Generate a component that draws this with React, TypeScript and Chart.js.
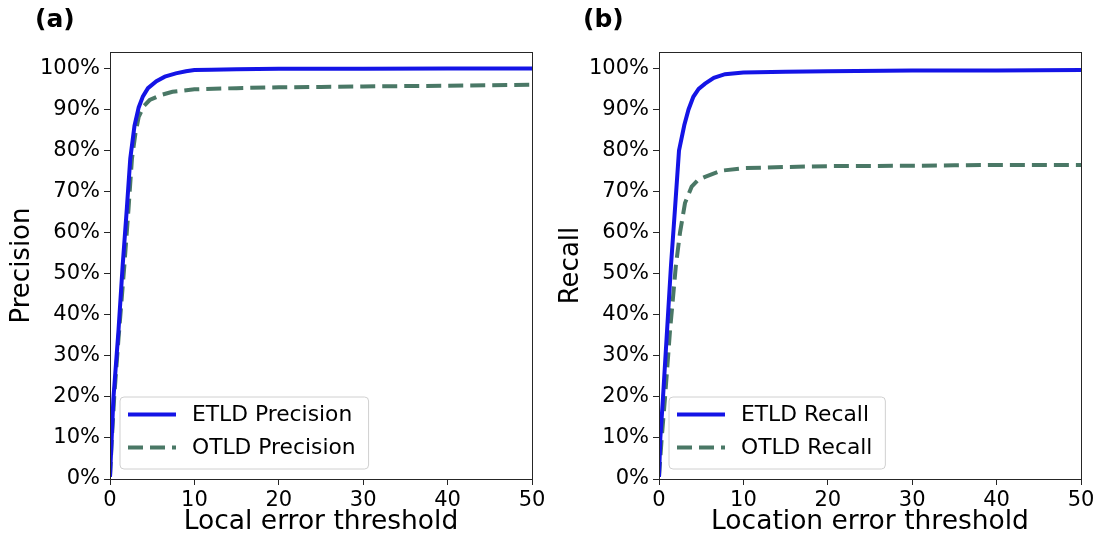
import React, { useEffect, useRef } from 'react';
import { Chart, registerables } from 'chart.js';

Chart.register(...registerables);

// ---------- data ----------
const xTicks = [0, 10, 20, 30, 40, 50];
const yTicks = [0, 10, 20, 30, 40, 50, 60, 70, 80, 90, 100];

const etldPrecisionX = [0, 0.2, 0.4, 1.0, 1.5, 2.0, 2.4, 2.9, 3.4, 3.9, 4.5, 5.5, 6.5, 7.8, 9, 10, 12, 15, 20, 30, 40, 50];
const etldPrecisionY = [0.5, 10, 19.5, 36, 52, 66, 78, 86, 90.5, 93.2, 95.2, 96.9, 98.0, 98.8, 99.3, 99.6, 99.7, 99.8, 99.9, 99.9, 100, 100];

const otldPrecisionX = [0, 0.2, 0.5, 1.0, 1.7, 2.2, 2.6, 3.0, 3.4, 4.0, 4.7, 6.0, 7.4, 10, 15, 20, 25, 30, 35, 40, 45, 50];
const otldPrecisionY = [0.5, 9, 20, 34, 52, 66, 78, 84, 88.2, 90.8, 92.3, 93.5, 94.3, 94.9, 95.2, 95.4, 95.5, 95.6, 95.7, 95.8, 95.9, 96.0];

const etldRecallX = [0, 0.16, 0.47, 0.95, 1.42, 1.9, 2.37, 3.0, 3.5, 4.07, 4.7, 5.46, 6.5, 7.83, 10, 15, 20, 30, 40, 50];
const etldRecallY = [0.5, 10, 19.7, 36, 52, 66, 80, 86.2, 90, 93.1, 95, 96.3, 97.7, 98.6, 99.0, 99.2, 99.3, 99.5, 99.5, 99.6];

const otldRecallX = [0, 0.32, 0.71, 1.3, 2.0, 2.49, 3.08, 3.87, 4.6, 5.46, 7.4, 10, 15, 20, 30, 35, 40, 50];
const otldRecallY = [0.5, 10, 19.7, 36, 52, 60, 67.2, 71.2, 72.8, 73.6, 75.1, 75.7, 76.0, 76.2, 76.3, 76.4, 76.5, 76.5];

const panelTitles = ['(a)', '(b)'];
const xAxisTitles = ['Local error threshold', 'Location error threshold'];
const yAxisTitles = ['Precision', 'Recall'];
const precisionLabels = ['ETLD Precision', 'OTLD Precision'];
const recallLabels = ['ETLD Recall', 'OTLD Recall'];

// ---------- styles ----------
const FONT = '"DejaVu Sans", "Liberation Sans", sans-serif';
const ETLD_COLOR = '#1414e6';
const OTLD_COLOR = '#4a7866';
const AXIS_COLOR = '#262626';

const zip = (xs: number[], ys: number[]) => xs.map((x, i) => ({ x, y: ys[i] }));

const decorPlugin = {
  id: 'decor',
  afterDraw(chart: any, _args: any, opts: any) {
    const { ctx, chartArea: a } = chart;
    ctx.save();
    // frame
    ctx.strokeStyle = AXIS_COLOR;
    ctx.lineWidth = 1;
    ctx.setLineDash([]);
    ctx.strokeRect(Math.round(a.left) + 0.5, Math.round(a.top) + 0.5, Math.round(a.right - a.left), Math.round(a.bottom - a.top));
    // panel title
    ctx.fillStyle = '#000';
    ctx.font = `bold 25px ${FONT}`;
    ctx.textBaseline = 'middle';
    ctx.textAlign = 'left';
    ctx.fillText(opts.panel, opts.panelX, 20);
    // legend
    ctx.font = `21.8px ${FONT}`;
    const ds = chart.data.datasets;
    const tw = Math.max(...ds.map((d: any) => ctx.measureText(d.label).width));
    const bh = 72;
    const bx = a.left + 10;
    const by = a.bottom - 10 - bh;
    const bw = 8 + 48 + 16 + tw + 13;
    const r = 4;
    ctx.beginPath();
    ctx.moveTo(bx + r, by);
    ctx.lineTo(bx + bw - r, by);
    ctx.quadraticCurveTo(bx + bw, by, bx + bw, by + r);
    ctx.lineTo(bx + bw, by + bh - r);
    ctx.quadraticCurveTo(bx + bw, by + bh, bx + bw - r, by + bh);
    ctx.lineTo(bx + r, by + bh);
    ctx.quadraticCurveTo(bx, by + bh, bx, by + bh - r);
    ctx.lineTo(bx, by + r);
    ctx.quadraticCurveTo(bx, by, bx + r, by);
    ctx.closePath();
    ctx.fillStyle = 'rgba(255,255,255,0.8)';
    ctx.fill();
    ctx.strokeStyle = '#d0d0d0';
    ctx.lineWidth = 1;
    ctx.stroke();
    ds.forEach((d: any, i: number) => {
      const y = by + 17.5 + i * 33;
      ctx.strokeStyle = d.borderColor;
      ctx.lineWidth = d.borderWidth;
      ctx.setLineDash(d.borderDash || []);
      ctx.beginPath();
      ctx.moveTo(bx + 8, y);
      ctx.lineTo(bx + 56, y);
      ctx.stroke();
      ctx.setLineDash([]);
      ctx.fillStyle = '#000';
      ctx.fillText(d.label, bx + 72, y + 1);
    });
    ctx.restore();
  },
};

type PanelProps = {
  panel: string;
  panelX: number;
  xTitle: string;
  yTitle: string;
  labels: string[];
  etld: { x: number; y: number }[];
  otld: { x: number; y: number }[];
  yAxisWidth: number;
  padRight: number;
  yTitlePad: number;
};

function Panel(p: PanelProps) {
  const ref = useRef<HTMLCanvasElement>(null);
  useEffect(() => {
    if (!ref.current) return;
    const chart = new Chart(ref.current, {
      type: 'line',
      data: {
        datasets: [
          {
            label: p.labels[0],
            data: p.etld,
            borderColor: ETLD_COLOR,
            backgroundColor: ETLD_COLOR,
            borderWidth: 4,
            pointRadius: 0,
            tension: 0,
            fill: false,
          },
          {
            label: p.labels[1],
            data: p.otld,
            borderColor: OTLD_COLOR,
            backgroundColor: OTLD_COLOR,
            borderWidth: 4,
            borderDash: [15, 7],
            pointRadius: 0,
            tension: 0,
            fill: false,
          },
        ],
      },
      options: {
        animation: false,
        responsive: false,
        events: [],
        layout: { padding: { left: 0, right: p.padRight, top: 52, bottom: 0 } },
        plugins: {
          legend: { display: false },
          tooltip: { enabled: false },
          decor: { panel: p.panel, panelX: p.panelX },
        } as any,
        scales: {
          x: {
            type: 'linear',
            min: 0,
            max: 50,
            afterFit: (s: any) => { s.height = 66; },
            afterBuildTicks: (s: any) => { s.ticks = xTicks.map((v) => ({ value: v })); },
            ticks: { color: '#000', font: { size: 21, family: FONT }, padding: 3, maxRotation: 0 },
            grid: { drawOnChartArea: false, drawTicks: true, tickLength: 6, color: AXIS_COLOR },
            border: { display: false },
            title: {
              display: true,
              text: p.xTitle,
              color: '#000',
              font: { size: 26.5, family: FONT },
              padding: { top: 0, bottom: 7 },
            },
          },
          y: {
            type: 'linear',
            min: 0,
            max: 104,
            afterFit: (s: any) => { s.width = p.yAxisWidth; },
            afterBuildTicks: (s: any) => { s.ticks = yTicks.map((v) => ({ value: v })); },
            ticks: {
              color: '#000',
              font: { size: 21, family: FONT },
              padding: 4,
              callback: (v: any) => `${v}%`,
            },
            grid: { drawOnChartArea: false, drawTicks: true, tickLength: 6, color: AXIS_COLOR },
            border: { display: false },
            title: {
              display: true,
              text: p.yTitle,
              color: '#000',
              font: { size: 26, family: FONT },
              padding: { top: p.yTitlePad, bottom: 0 },
            },
          },
        },
      },
      plugins: [decorPlugin as any],
    });
    return () => chart.destroy();
  }, []);
  return <canvas ref={ref} width={551} height={545} style={{ display: 'block', width: 551, height: 545 }} />;
}

export default function App() {
  return (
    <div style={{ position: 'absolute', left: 0, top: 0, width: 1102, height: 545, display: 'flex', background: '#fff', overflow: 'hidden' }}>
      <Panel
        panel={panelTitles[0]}
        panelX={35}
        xTitle={xAxisTitles[0]}
        yTitle={yAxisTitles[0]}
        labels={precisionLabels}
        etld={zip(etldPrecisionX, etldPrecisionY)}
        otld={zip(otldPrecisionX, otldPrecisionY)}
        yAxisWidth={110}
        padRight={19}
        yTitlePad={7}
      />
      <Panel
        panel={panelTitles[1]}
        panelX={32}
        xTitle={xAxisTitles[1]}
        yTitle={yAxisTitles[1]}
        labels={recallLabels}
        etld={zip(etldRecallX, etldRecallY)}
        otld={zip(otldRecallX, otldRecallY)}
        yAxisWidth={108}
        padRight={21}
        yTitlePad={5}
      />
    </div>
  );
}
